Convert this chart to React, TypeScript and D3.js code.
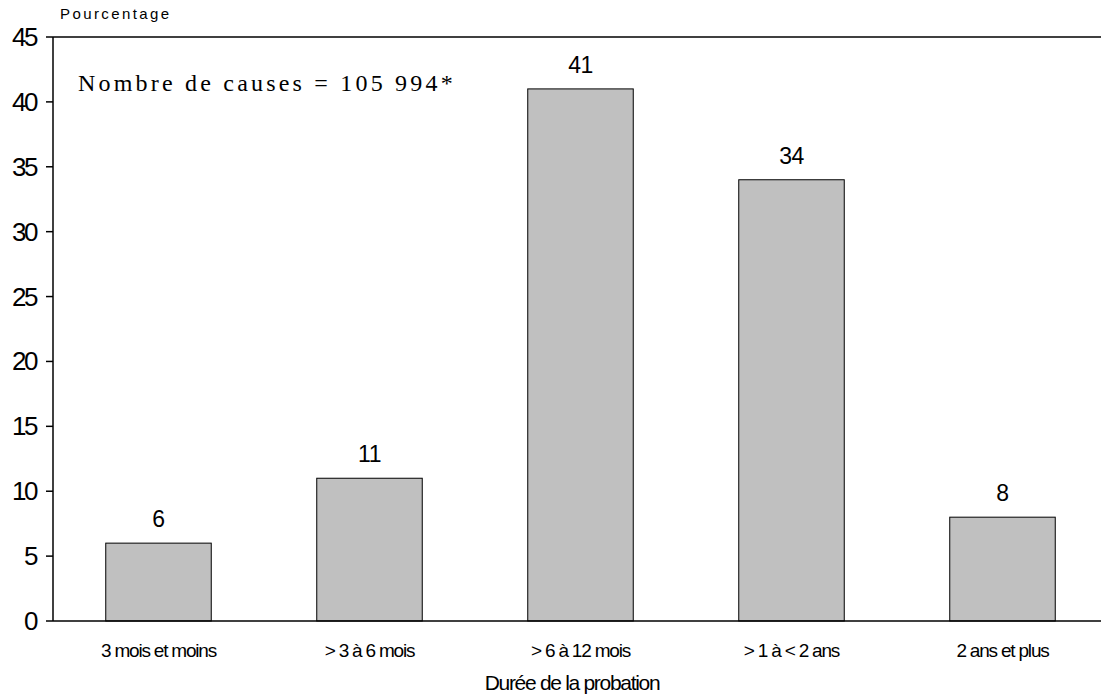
import React from "react";
import * as d3 from "d3";

// Probation length distribution
const categories: string[] = [
  "3 mois et moins",
  "> 3 à 6 mois",
  "> 6 à 12 mois",
  "> 1 à < 2 ans",
  "2 ans et plus",
];
const percentages: number[] = [6, 11, 41, 34, 8];
const yTicks: number[] = [0, 5, 10, 15, 20, 25, 30, 35, 40, 45];

const yAxisLabel = "Pourcentage";
const xAxisLabel = "Durée de la probation";
const noteText = "Nombre de causes = 105 994*";

const WIDTH = 1101;
const HEIGHT = 696;
const PLOT_LEFT = 53;
const PLOT_RIGHT = 1108;
const PLOT_TOP = 37;
const PLOT_BOTTOM = 621;

export default function App() {
  const x = d3
    .scaleBand<string>()
    .domain(categories)
    .range([PLOT_LEFT, PLOT_RIGHT])
    .paddingInner(0.5)
    .paddingOuter(0.25);
  const y = d3.scaleLinear().domain([0, 45]).range([PLOT_BOTTOM, PLOT_TOP]);

  const sans = "Arial, 'Liberation Sans', Helvetica, sans-serif";
  const serif = "'Times New Roman', 'Liberation Serif', serif";

  return (
    <svg
      width={WIDTH}
      height={HEIGHT}
      viewBox={`0 0 ${WIDTH} ${HEIGHT}`}
      style={{ position: "absolute", left: 0, top: 0, background: "#fff" }}
    >
      {/* bars */}
      {percentages.map((v, i) => {
        const bx = x(categories[i])!;
        return (
          <rect
            key={categories[i]}
            x={bx}
            y={y(v)}
            width={x.bandwidth()}
            height={y(0) - y(v)}
            fill="#c0c0c0"
            stroke="#000"
            strokeWidth={1}
          />
        );
      })}

      {/* value labels */}
      {percentages.map((v, i) => (
        <text
          key={"v" + i}
          x={x(categories[i])! + x.bandwidth() / 2}
          y={y(v) - 16}
          textAnchor="middle"
          fontFamily={sans}
          fontSize={23}
          letterSpacing={-0.5}
          fill="#000"
        >
          {v}
        </text>
      ))}

      {/* frame lines: left axis, baseline, top */}
      <line x1={PLOT_LEFT} x2={PLOT_LEFT} y1={PLOT_TOP} y2={PLOT_BOTTOM} stroke="#000" strokeWidth={1.5} />
      <line x1={PLOT_LEFT} x2={WIDTH} y1={PLOT_BOTTOM} y2={PLOT_BOTTOM} stroke="#000" strokeWidth={1.5} />
      <line x1={PLOT_LEFT} x2={WIDTH} y1={PLOT_TOP} y2={PLOT_TOP} stroke="#000" strokeWidth={1.5} />

      {/* y ticks */}
      {yTicks.map((t) => (
        <g key={"t" + t}>
          <line x1={PLOT_LEFT - 7} x2={PLOT_LEFT} y1={y(t)} y2={y(t)} stroke="#000" strokeWidth={1.5} />
          <text
            x={36}
            y={y(t) + 9}
            textAnchor="end"
            fontFamily={sans}
            fontSize={26}
            letterSpacing={-2.5}
            fill="#000"
          >
            {t}
          </text>
        </g>
      ))}

      {/* category labels */}
      {categories.map((c) => (
        <text
          key={"c" + c}
          x={x(c)! + x.bandwidth() / 2}
          y={657}
          textAnchor="middle"
          fontFamily={sans}
          fontSize={19}
          letterSpacing={-1.2}
          fill="#000"
        >
          {c}
        </text>
      ))}

      {/* axis titles */}
      <text
        x={572}
        y={690}
        textAnchor="middle"
        fontFamily={sans}
        fontSize={21}
        letterSpacing={-1.3}
        fill="#000"
      >
        {xAxisLabel}
      </text>
      <text x={60} y={19} fontFamily={sans} fontSize={15} letterSpacing={2.4} fill="#000">
        {yAxisLabel}
      </text>

      {/* case count note */}
      <text x={78} y={91} fontFamily={serif} fontSize={24} letterSpacing={3.2} fill="#000">
        {noteText}
      </text>
    </svg>
  );
}
